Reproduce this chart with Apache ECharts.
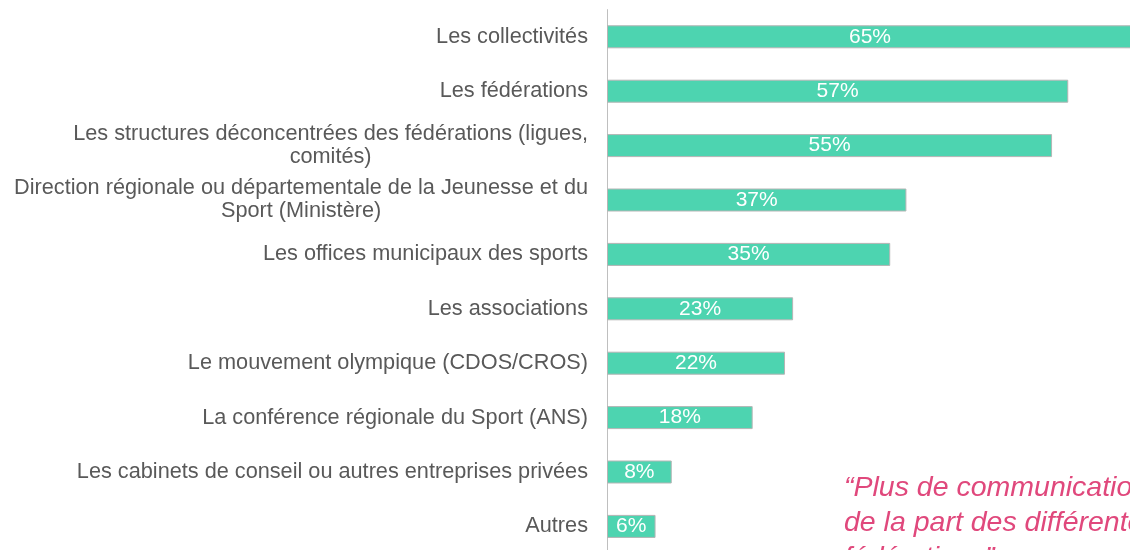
<!DOCTYPE html>
<html>
<head>
<meta charset="utf-8">
<script src="https://cdn.jsdelivr.net/npm/echarts@6/dist/echarts.min.js"></script>
<style>
  html, body { margin: 0; padding: 0; background: #fff; }
  #myChart { width: 1130px; height: 550px; }
</style>
</head>
<body>
<div id="myChart"></div>
<script>
  // categories, top to bottom
  var categories = [
    'Les collectivités',
    'Les fédérations',
    'Les structures déconcentrées des fédérations (ligues,\ncomités)',
    'Direction régionale ou départementale de la Jeunesse et du\nSport (Ministère)',
    'Les offices municipaux des sports',
    'Les associations',
    'Le mouvement olympique (CDOS/CROS)',
    'La conférence régionale du Sport (ANS)',
    'Les cabinets de conseil ou autres entreprises privées',
    'Autres'
  ];
  var values = [65, 57, 55, 37, 35, 23, 22, 18, 8, 6];
  var quoteLines = ['“Plus de communication', 'de la part des différentes', 'fédérations”'];

  var myChart = echarts.init(document.getElementById('myChart'));

  var option = {
    animation: false,
    grid: {
      left: 607,
      right: -3,
      top: 9.6,
      bottom: -3.6,
      outerBoundsMode: 'none'
    },
    xAxis: {
      type: 'value',
      min: 0,
      max: 65,
      show: false
    },
    yAxis: {
      type: 'category',
      inverse: true,
      data: categories,
      axisLine: { lineStyle: { color: '#bfbfbf', width: 1 } },
      axisTick: { show: false },
      axisLabel: {
        margin: 19,
        color: '#595959',
        fontFamily: 'Liberation Sans, Arial, sans-serif',
        fontSize: 21.7,
        lineHeight: 23,
        formatter: function (v) {
          return v.split('\n').map(function (s) { return '{c|' + s + '}'; }).join('\n');
        },
        rich: {
          c: {
            align: 'center',
            color: '#595959',
            fontFamily: 'Liberation Sans, Arial, sans-serif',
            fontSize: 21.7,
            lineHeight: 23
          }
        }
      }
    },
    series: [
      {
        type: 'bar',
        data: values,
        barWidth: 23,
        itemStyle: {
          color: '#4dd4b0',
          borderColor: '#b5b5b5',
          borderWidth: 1
        },
        label: {
          show: true,
          position: 'inside',
          color: '#ffffff',
          fontFamily: 'Liberation Sans, Arial, sans-serif',
          fontSize: 21,
          formatter: '{c}%'
        }
      }
    ],
    graphic: [
      {
        type: 'text',
        left: 844,
        top: 470.5,
        style: {
          text: quoteLines.join('\n'),
          fill: '#e0487c',
          fontFamily: 'Liberation Sans, Arial, sans-serif',
          fontStyle: 'italic',
          fontSize: 28.5,
          lineHeight: 35
        }
      }
    ]
  };
  myChart.setOption(option);
</script>
</body>
</html>
